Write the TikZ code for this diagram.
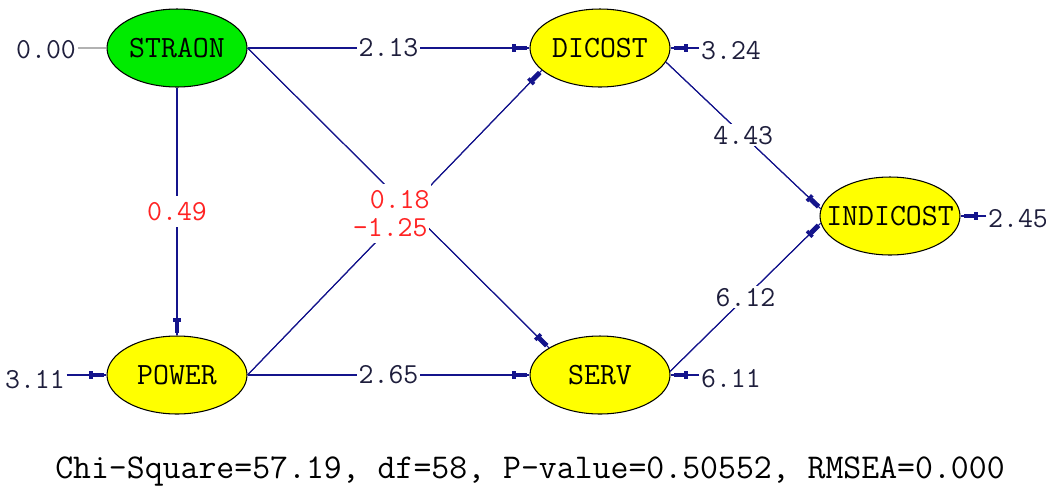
\documentclass[tikz,border=0pt]{standalone}
\usepackage{fontspec}
\usetikzlibrary{shapes.geometric,arrows.meta}
\definecolor{pathblue}{RGB}{20,20,140}
\definecolor{latgreen}{RGB}{0,235,0}
\definecolor{latyellow}{RGB}{255,255,0}
\definecolor{numtext}{RGB}{30,30,60}
\definecolor{coefred}{RGB}{255,35,35}

\begin{document}
\begin{tikzpicture}[x=0.02cm,y=-0.02cm,
        latent/.style={ellipse,draw=black,line width=0.6pt,minimum width=2.8cm,
            minimum height=1.56cm,inner sep=0pt,inner xsep=-12pt,
            font=\ttfamily\fontsize{17.6}{19}\selectfont},
        effect/.style={pathblue,line width=0.6pt,
            postaction={draw,shorten >=1.7pt,
                -{Bar[width=4.5pt,line width=2pt]Rectangle[length=6pt,width=2.8pt]}}},
        coef/.style={fill=white,inner sep=1pt,text=numtext,
            font=\ttfamily\fontsize{16.5}{18}\selectfont},
        redcoef/.style={coef,text=coefred,inner ysep=3.5pt}]
    \useasboundingbox (0,0) rectangle (1046,488);

    % latent variables
    \node[latent,fill=latgreen] (straon) at (177,48) {STRAON};
    \node[latent,fill=latyellow] (power) at (177,375) {POWER};
    \node[latent,fill=latyellow] (dicost) at (600,48) {DICOST};
    \node[latent,fill=latyellow] (serv) at (600,375) {SERV};
    \node[latent,fill=latyellow] (indicost) at (890,216) {INDICOST};

    % error variances
    \node[coef,fill=none] (e-straon) at (46,50) {0.00};
    \node[coef,fill=none] (e-power) at (35,380) {3.11};
    \node[coef,fill=none] (e-dicost) at (731,51) {3.24};
    \node[coef,fill=none] (e-serv) at (731,379) {6.11};
    \node[coef,fill=none] (e-indicost) at (1018,219) {2.45};

    \draw[gray!60,line width=0.6pt] (e-straon.east |- straon.west) -- (straon.west);
    \draw[effect] (e-power.east |- power.west) -- (power.west);
    \draw[effect] (e-dicost.west |- dicost.east) -- (dicost.east);
    \draw[effect] (e-serv.west |- serv.east) -- (serv.east);
    \draw[effect] (e-indicost.west |- indicost.east) -- (indicost.east);

    % structural paths
    \draw[effect] (straon) -- node[redcoef] {0.49} (power);
    \draw[effect] (straon.east) -- node[coef] {2.13} (dicost.west);
    \draw[effect] (power.east) -- node[coef] {2.65} (serv.west);
    \draw[effect] (straon.east) -- (serv.152);
    \draw[effect] (power.east) -- (dicost.201);
    \draw[effect] (dicost.-12) -- node[coef] {4.43} (indicost.174);
    \draw[effect] (serv.3) -- node[coef] {6.12} (indicost.186);

    % labels where the two diagonals cross
    \path (straon.east) -- (serv.152) node[redcoef,pos=.505] {0.18};
    \path (power.east) -- (dicost.201) node[redcoef,pos=.485] {-1.25};

    \node[font=\ttfamily\fontsize{19.8}{22}\selectfont] (fit) at (530,471)
        {Chi-Square=57.19, df=58, P-value=0.50552, RMSEA=0.000};
\end{tikzpicture}
\end{document}
